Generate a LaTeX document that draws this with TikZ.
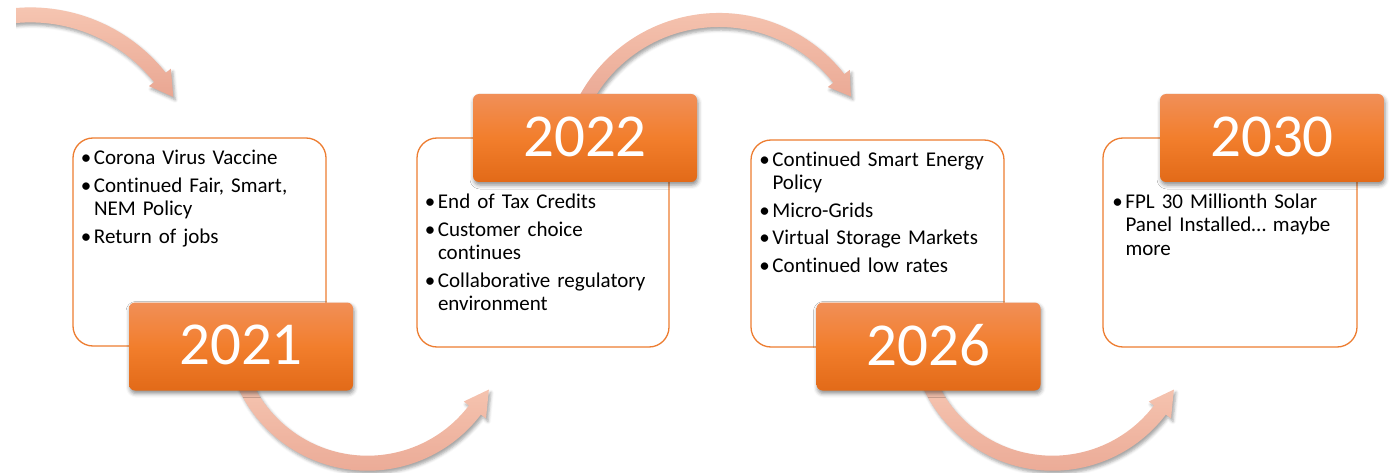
\documentclass[tikz,border=0pt]{standalone}
\usepackage{fontspec}
\setmainfont{Carlito}[Ligatures=NoCommon]
\usetikzlibrary{shadows.blur}
\definecolor{boxOrange}{RGB}{237,125,49}
\definecolor{yrTop}{RGB}{241,143,88}
\definecolor{yrMid}{RGB}{242,126,44}
\definecolor{yrBot}{RGB}{226,106,24}
\definecolor{arTop}{RGB}{247,200,180}
\definecolor{arBot}{RGB}{233,166,146}
\newcommand{\bitem}[1]{\hangindent=10.8pt\hangafter=1\noindent\makebox[10.8pt][l]{\hspace*{-2.3pt}\textbullet}\strut#1\par}
\tikzset{
  yearbox/.style={rounded corners=6pt, minimum width=224pt, minimum height=88pt, inner sep=0pt,
    top color=yrTop, bottom color=yrBot, middle color=yrMid, text=white,
    font=\fontsize{61}{61}\selectfont,
    blur shadow={shadow xshift=1pt, shadow yshift=-3pt, shadow blur radius=4pt, shadow opacity=45}},
  infobox/.style={draw=boxOrange, line width=1.3pt, rounded corners=20pt, fill=white, inner sep=0pt},
  infotext/.style={anchor=north west, inner sep=0pt, text width=250pt, align=left,
    font=\fontsize{21}{23.3}\selectfont},
  flowarrow/.style={top color=arTop, bottom color=arBot,
    blur shadow={shadow xshift=2pt, shadow yshift=-3pt, shadow blur radius=3pt, shadow opacity=35}},
}
\begin{document}
\begin{tikzpicture}[x=1pt,y=1pt]
\useasboundingbox (0,0) rectangle (1394,-473);
% arrow centres
\coordinate (c1) at (30.3,-180.5);
\coordinate (c2) at (367.5,-328.2);
\coordinate (c3) at (719,-172);
\coordinate (c4) at (1052.5,-328.2);
% arrow 1 (clipped at left edge)
\begin{scope}
\clip (16,0) rectangle (1394,-473);
\begin{scope}[shift={(c1)}]
\path[flowarrow] (100:173.1pt) arc[start angle=100, end angle=38.5, radius=173.1pt]
  -- (38.5:179.6pt) -- (30.3:165.6pt) -- (38.5:151.6pt) -- (38.5:158.1pt)
  arc[start angle=38.5, end angle=100, radius=158.1pt] -- cycle;
\end{scope}
\end{scope}
% arrow 2
\begin{scope}[shift={(c2)}]
\path[flowarrow] (200:142.5pt) arc[start angle=200, end angle=322.7, radius=142.5pt]
  -- (322.7:149pt) -- (333.2:136pt) -- (322.7:121pt) -- (322.7:127.5pt)
  arc[start angle=322.7, end angle=200, radius=127.5pt] -- cycle;
\end{scope}
% arrow 3
\begin{scope}[shift={(c3)}]
\path[flowarrow] (155:159pt) arc[start angle=155, end angle=38, radius=159pt]
  -- (38:166pt) -- (29.8:152pt) -- (38:138pt) -- (38:145pt)
  arc[start angle=38, end angle=155, radius=145pt] -- cycle;
\end{scope}
% arrow 4
\begin{scope}[shift={(c4)}]
\path[flowarrow] (200:142.5pt) arc[start angle=200, end angle=322.7, radius=142.5pt]
  -- (322.7:149pt) -- (333.2:136pt) -- (322.7:121pt) -- (322.7:127.5pt)
  arc[start angle=322.7, end angle=200, radius=127.5pt] -- cycle;
\end{scope}
% info boxes
\node[infobox, minimum width=253pt, minimum height=208pt] (b1) at (199.5,-242) {};
\node[infobox, minimum width=252pt, minimum height=209pt] (b2) at (543,-242.5) {};
\node[infobox, minimum width=253pt, minimum height=207pt] (b3) at (877.5,-243.5) {};
\node[infobox, minimum width=254pt, minimum height=209pt] (b4) at (1230,-242.5) {};
% texts
\node[infotext] (t1) at (83,-148) {\setlength{\parskip}{4.3pt}%
  \bitem{Corona Virus Vaccine}
  \bitem{Continued Fair, Smart,\newline NEM Policy}
  \bitem{Return of jobs}};
\node[infotext] (t2) at (427,-192) {\setlength{\parskip}{4.3pt}%
  \bitem{End of Tax Credits}
  \bitem{Customer choice\newline continues}
  \bitem{Collaborative regulatory\newline environment}};
\node[infotext] (t3) at (761.5,-149.7) {\setlength{\parskip}{4.3pt}%
  \bitem{Continued Smart Energy\newline Policy}
  \bitem{Micro-Grids}
  \bitem{Virtual Storage Markets}
  \bitem{Continued low rates}};
\node[infotext] (t4) at (1114.5,-192) {\setlength{\parskip}{4.3pt}%
  \bitem{FPL 30 Millionth Solar\newline Panel Installed… maybe\newline more}};
% year boxes
\node[yearbox] (y1) at (241,-346.5) {\raisebox{3.5pt}{2021}};
\node[yearbox] (y2) at (585,-138) {\raisebox{3.5pt}{2022}};
\node[yearbox] (y3) at (928.5,-346.5) {\raisebox{3.5pt}{2026}};
\node[yearbox] (y4) at (1272,-138) {\raisebox{3.5pt}{2030}};
\end{tikzpicture}
\end{document}
